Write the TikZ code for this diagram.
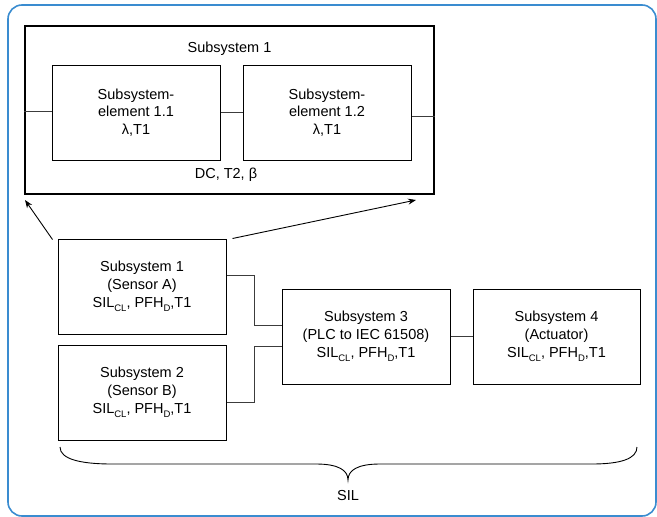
\documentclass[tikz,border=0pt]{standalone}
\usepackage{fontspec}
\setmainfont{Liberation Sans}
\usetikzlibrary{arrows.meta}
\definecolor{frameblue}{RGB}{58,140,208}
\definecolor{linegray}{RGB}{60,60,60}
\newcommand{\mysub}[1]{\raisebox{-0.5ex}{\fontsize{9.5}{10}\selectfont #1}}
\tikzset{
  txt/.style={font=\fontsize{14.5}{17.8}\selectfont, align=center, inner sep=0pt},
  blk/.style={draw=black, line width=1pt, rectangle, minimum width=168pt, minimum height=95pt,
              font=\fontsize{14.5}{17.8}\selectfont, align=center, inner sep=0pt},
  wire/.style={draw=linegray, line width=1pt},
  arr/.style={draw=black, line width=0.9pt, -{Stealth[length=8pt,width=6pt]}}
}
\begin{document}
\begin{tikzpicture}[x=1pt,y=-1pt]
\useasboundingbox (0,0) rectangle (657,517);
\draw[frameblue, line width=1.6pt, rounded corners=14pt] (8,5) rectangle (656,516);

% top detail box
\node[draw=black, line width=2pt, rectangle, minimum width=409pt, minimum height=168pt, inner sep=0pt] (big) at (229.5,110) {};
\node[txt] (bigtitle) at (229.5,49) {Subsystem 1};
\node[txt] (bigfoot) at (226,175) {DC, T2, β};
\node[blk] (e11) at (136,112.5) {Subsystem-\\element 1.1\\λ,T1};
\node[blk] (e12) at (327,112.5) {Subsystem-\\element 1.2\\λ,T1};
\draw[wire] ([yshift=1.5pt]e11.west) -- ([yshift=1.5pt]big.west |- e11.west);
\draw[wire] (e11.east) -- (e12.west);
\draw[wire] ([yshift=-3.5pt]e12.east) -- ([yshift=-3.5pt]big.east |- e12.east);

% lower chain
\node[blk] (sa) at (142,286.5) {Subsystem 1\\(Sensor A)\\SIL\mysub{CL}, PFH\mysub{D},T1};
\node[blk] (sb) at (142,392.5) {Subsystem 2\\(Sensor B)\\SIL\mysub{CL}, PFH\mysub{D},T1};
\node[blk] (s3) at (366,336.5) {Subsystem 3\\(PLC to IEC 61508)\\SIL\mysub{CL}, PFH\mysub{D},T1};
\node[blk, minimum width=167pt] (s4) at (556.5,336.5) {Subsystem 4\\(Actuator)\\SIL\mysub{CL}, PFH\mysub{D},T1};

\coordinate (ja) at (254,275);
\coordinate (jb) at (254,402);
\draw[wire] (sa.east |- ja) -- (ja) |- ([yshift=11.5pt]s3.west);
\draw[wire] (sb.east |- jb) -- (jb) |- ([yshift=-9.5pt]s3.west);
\draw[wire] (s3.east) -- (s4.west);

% arrows to detail box
\coordinate (t1) at (25,200);
\coordinate (t2) at (416,200);
\draw[arr] ([xshift=-5pt,yshift=-1pt]sa.north west) -- (t1);
\draw[arr] ([xshift=6pt]sa.north east) -- (t2);

% brace
\coordinate (bl) at (60,447);
\coordinate (br) at (637,447);
\coordinate (bt) at (348,480);
\draw[black, line width=0.9pt] (bl) .. controls (60,459) and (80,464) .. (112,464)
  -- (316,464) .. controls (338,464) and (348,470) .. (bt)
  .. controls (348,470) and (358,464) .. (380,464)
  -- (592,464) .. controls (620,464) and (637,459) .. (br);
\node[txt] (sil) at (348,496) {SIL};
\end{tikzpicture}
\end{document}
